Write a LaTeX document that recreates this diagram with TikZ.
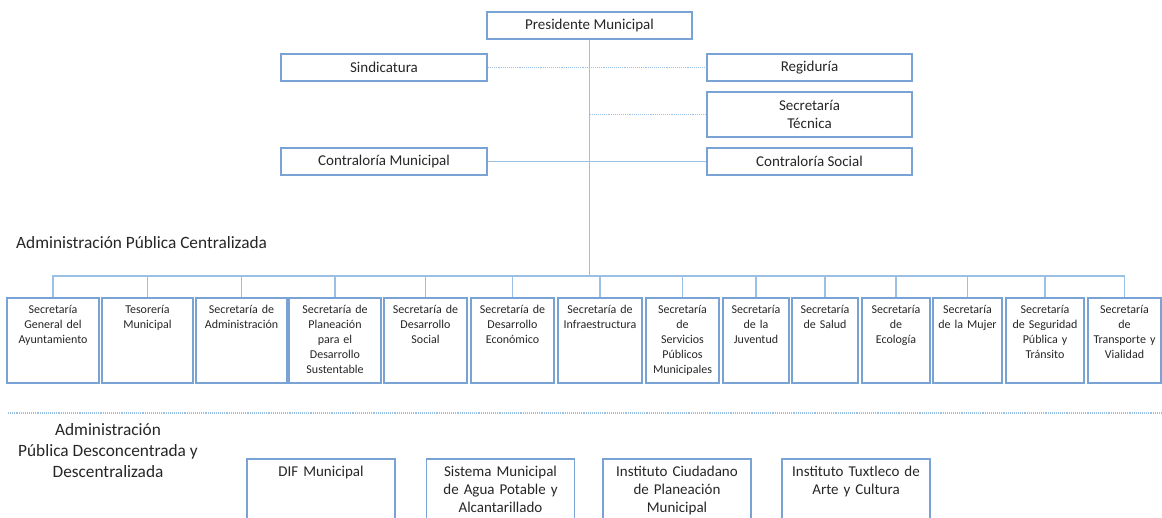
\documentclass[tikz,border=0pt]{standalone}
\usepackage{fontspec}
\setmainfont{Carlito}

\definecolor{boxblue}{RGB}{122,163,213}
\definecolor{linkblue}{RGB}{155,192,230}
\definecolor{txtgray}{RGB}{38,38,38}

\begin{document}
\begin{tikzpicture}[x=1pt,y=-1pt,
	box/.style={draw=boxblue,line width=1.8pt,inner sep=0pt,minimum width=205pt,minimum height=27pt,font=\fontsize{15}{18}\selectfont,text=txtgray,align=center},
	sec/.style={draw=boxblue,line width=1.8pt,anchor=north,align=center,text width=#1,inner xsep=0pt,inner ysep=6pt,text height=10pt,text depth=63pt,font=\fontsize{12}{15}\selectfont,text=txtgray},
	inst/.style={draw=boxblue,line width=1.8pt,anchor=north,align=center,text width=148pt,inner xsep=0pt,inner ysep=6pt,text height=11.5pt,text depth=80pt,font=\fontsize{15}{18}\selectfont,text=txtgray},
	head/.style={inner sep=0pt,align=center,font=\fontsize{17.3}{21}\selectfont,text=txtgray},
	link/.style={draw=linkblue,line width=1.1pt},
	dotlink/.style={link,densely dotted}]
	\useasboundingbox (0,0) rectangle (1162,518);
	\clip (0,0) rectangle (1162,518);
	% top of the chart
	\node[box] (pres) at (589.5,25.5) {Presidente Municipal};
	\node[box,minimum width=206pt] (sind) at (384,67.5) {Sindicatura};
	\node[box] (regi) at (809.5,67.5) {Regiduría};
	\node[box,minimum height=45pt] (stec) at (809.5,114.5) {Secretaría\\Técnica};
	\node[box,minimum width=206pt] (cmun) at (384,161.5) {Contraloría Municipal};
	\node[box] (csoc) at (809.5,161.5) {Contraloría Social};
	\coordinate (bus) at (589.5,276);
	\draw[link] (pres) -- (bus);
	\draw[dotlink] (sind) -- (regi);
	\draw[dotlink] (bus |- stec) -- (stec);
	\draw[link] (cmun) -- (csoc);
	% centralized administration
	\node[head,anchor=west] (cent) at (16,243) {Administración Pública Centralizada};
	\node[sec=92pt] (s1) at (53,297) {Secretaría\\General del\\Ayuntamiento};
	\node[sec=91pt] (s2) at (147.5,297) {Tesorería\\Municipal};
	\node[sec=91pt] (s3) at (241.5,297) {Secretaría de\\Administración};
	\node[sec=92pt] (s4) at (335,297) {Secretaría de\\Planeación\\para el\\Desarrollo\\Sustentable};
	\node[sec=83pt] (s5) at (425.5,297) {Secretaría de\\Desarrollo\\Social};
	\node[sec=83pt] (s6) at (512.5,297) {Secretaría de\\Desarrollo\\Económico};
	\node[sec=84pt] (s7) at (600,297) {Secretaría de\\Infraestructura};
	\node[sec=73pt] (s8) at (682.5,297) {Secretaría\\de\\Servicios\\Públicos\\Municipales};
	\node[sec=66pt] (s9) at (756,297) {Secretaría\\de la\\Juventud};
	\node[sec=66pt] (s10) at (825,297) {Secretaría\\de Salud};
	\node[sec=68pt] (s11) at (896,297) {Secretaría\\de\\Ecología};
	\node[sec=69pt] (s12) at (967.5,297) {Secretaría\\de la Mujer};
	\node[sec=78pt] (s13) at (1045,297) {Secretaría\\de Seguridad\\Pública y\\Tránsito};
	\node[sec=73pt] (s14) at (1124.5,297) {Secretaría\\de\\Transporte y\\Vialidad};
	\draw[link] (s1) |- (bus);
	\draw[link] (s2) |- (bus);
	\draw[link] (s3) |- (bus);
	\draw[link] (s4) |- (bus);
	\draw[link] (s5) |- (bus);
	\draw[link] (s6) |- (bus);
	\draw[link] (s7) |- (bus);
	\draw[link] (s8) |- (bus);
	\draw[link] (s9) |- (bus);
	\draw[link] (s10) |- (bus);
	\draw[link] (s11) |- (bus);
	\draw[link] (s12) |- (bus);
	\draw[link] (s13) |- (bus);
	\draw[link] (s14) |- (bus);
	% decentralized administration
	\draw[dotlink] (8,413) -- (1162,413);
	\node[head] (desc) at (108,451) {Administración\\Pública Desconcentrada y\\Descentralizada};
	\node[inst] (dif) at (321,458) {DIF Municipal};
	\node[inst] (agua) at (500.5,458) {Sistema Municipal\\de Agua Potable y\\Alcantarillado};
	\node[inst] (icp) at (677,458) {Instituto Ciudadano\\de Planeación\\Municipal};
	\node[inst] (arte) at (856,458) {Instituto Tuxtleco de\\Arte y Cultura};
\end{tikzpicture}
\end{document}
